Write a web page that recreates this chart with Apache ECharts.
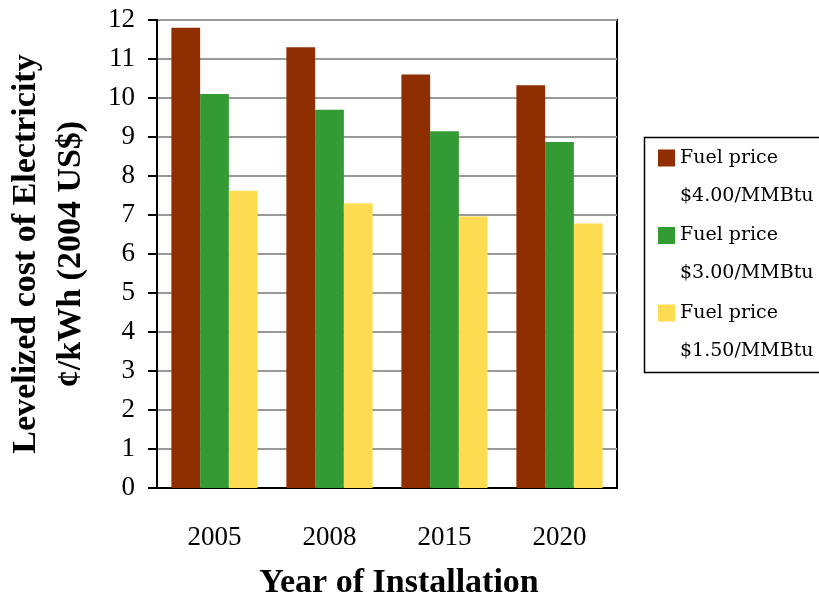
<!DOCTYPE html>
<html>
<head>
<meta charset="utf-8">
<script src="https://cdn.jsdelivr.net/npm/echarts@6/dist/echarts.min.js"></script>
<style>
  html, body { margin: 0; padding: 0; background: #fff; }
  #main { width: 819px; height: 597px; }
</style>
</head>
<body>
<div id="main"></div>
<script>
// data
const years = ['2005', '2008', '2015', '2020']
const fuel400 = [11.8, 11.3, 10.6, 10.33]
const fuel300 = [10.1, 9.7, 9.15, 8.87]
const fuel150 = [7.62, 7.3, 6.96, 6.78]
const seriesNames = ['Fuel price\n$4.00/MMBtu', 'Fuel price\n$3.00/MMBtu', 'Fuel price\n$1.50/MMBtu']
const colors = ['#8F2E00', '#349A34', '#FDDC52']

const chart = echarts.init(document.getElementById('main'))

const serif = 'Liberation Serif'
const legendFont = 'DejaVu Serif'

function barSeries(name, data, color) {
  return {
    name,
    type: 'bar',
    data,
    barGap: '0%',
    barCategoryGap: '25%',
    itemStyle: { color },
    emphasis: { disabled: true }
  }
}

const option = {
  animation: false,
  color: colors,
  grid: {
    left: 157,
    right: 202,
    top: 20,
    bottom: 109,
    outerBoundsMode: 'none',
    show: true,
    borderColor: '#000',
    borderWidth: 2
  },
  legend: {
    orient: 'vertical',
    left: 658,
    top: 101,
    padding: 0,
    itemWidth: 17,
    itemHeight: 17,
    itemGap: -36.5,
    icon: 'rect',
    // blank first line so the swatch sits beside "Fuel price"
    formatter: (name) => '\n' + name,
    textStyle: {
      fontFamily: legendFont,
      fontSize: 19,
      color: '#000',
      lineHeight: 38
    }
  },
  // legend frame
  graphic: [{
    type: 'rect',
    left: 642,
    top: 135,
    shape: { width: 200, height: 235 },
    style: { fill: 'none', stroke: '#000', lineWidth: 1.5 }
  }],
  xAxis: {
    type: 'category',
    data: years,
    name: 'Year of Installation',
    nameLocation: 'middle',
    nameGap: 78,
    nameTextStyle: {
      fontFamily: serif, fontWeight: 'bold', fontSize: 34, color: '#000',
      padding: [0, 0, 0, 24]
    },
    axisLine: { lineStyle: { color: '#000', width: 2 } },
    axisTick: { show: false },
    axisLabel: { fontFamily: serif, fontSize: 27, color: '#000', margin: 36 }
  },
  yAxis: {
    type: 'value',
    min: 0,
    max: 12,
    interval: 1,
    name: 'Levelized cost of Electricity\n¢/kWh (2004 US$)',
    nameLocation: 'middle',
    nameGap: 63,
    nameTextStyle: { fontFamily: serif, fontWeight: 'bold', fontSize: 34, color: '#000', lineHeight: 45 },
    axisLine: { show: true, lineStyle: { color: '#000', width: 2 } },
    axisTick: { show: true, inside: false, length: 9, lineStyle: { color: '#000', width: 2 } },
    axisLabel: { fontFamily: serif, fontSize: 27, color: '#000', margin: 22 },
    splitLine: { lineStyle: { color: '#999', width: 2 } }
  },
  series: [
    barSeries(seriesNames[0], fuel400, colors[0]),
    barSeries(seriesNames[1], fuel300, colors[1]),
    barSeries(seriesNames[2], fuel150, colors[2])
  ]
}

chart.setOption(option)
</script>
</body>
</html>
